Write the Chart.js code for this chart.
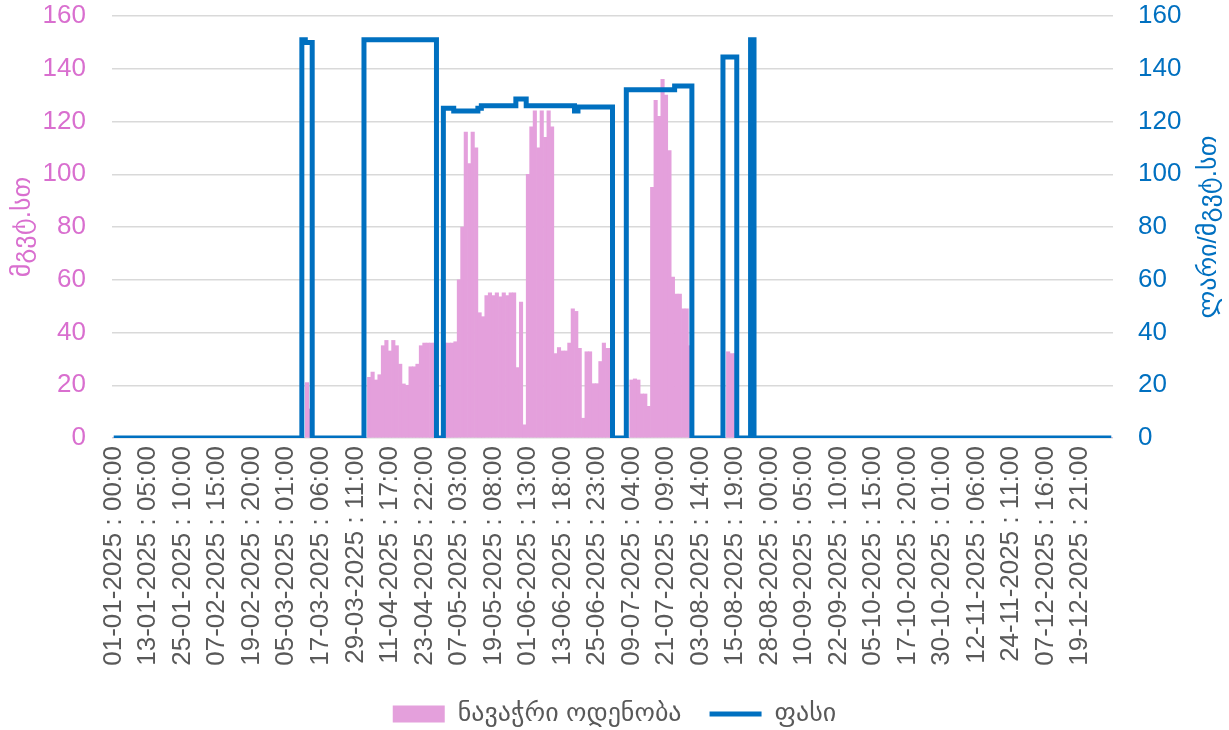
<!DOCTYPE html>
<html lang="ka">
<head>
    <meta charset="UTF-8">
    <title>ნავაჭრი ოდენობა და ფასი</title>
    <script src="https://cdn.jsdelivr.net/npm/chart.js@4"></script>
    <style>
        html, body { margin: 0; padding: 0; background: #fff; }
        #wrap { width: 1229px; height: 730px; position: relative; }
    </style>
</head>
<body>
    <div id="wrap"><canvas id="chart"></canvas></div>

    <script>
        // x ღერძის წარწერები (ყოველი მე-10 წერტილი)
        const xTickLabels = [
            "01-01-2025 : 00:00", "13-01-2025 : 05:00", "25-01-2025 : 10:00", "07-02-2025 : 15:00",
            "19-02-2025 : 20:00", "05-03-2025 : 01:00", "17-03-2025 : 06:00", "29-03-2025 : 11:00",
            "11-04-2025 : 17:00", "23-04-2025 : 22:00", "07-05-2025 : 03:00", "19-05-2025 : 08:00",
            "01-06-2025 : 13:00", "13-06-2025 : 18:00", "25-06-2025 : 23:00", "09-07-2025 : 04:00",
            "21-07-2025 : 09:00", "03-08-2025 : 14:00", "15-08-2025 : 19:00", "28-08-2025 : 00:00",
            "10-09-2025 : 05:00", "22-09-2025 : 10:00", "05-10-2025 : 15:00", "17-10-2025 : 20:00",
            "30-10-2025 : 01:00", "12-11-2025 : 06:00", "24-11-2025 : 11:00", "07-12-2025 : 16:00",
            "19-12-2025 : 21:00"
        ];
        const pointsPerLabel = 10;

        // ნავაჭრი ოდენობა, მგვტ.სთ (ერთი სტრიქონი = ერთი წარწერის ინტერვალი)
        const volume = [
            0, 0, 0, 0, 0, 0, 0, 0, 0, 0,
            0, 0, 0, 0, 0, 0, 0, 0, 0, 0,
            0, 0, 0, 0, 0, 0, 0, 0, 0, 0,
            0, 0, 0, 0, 0, 0, 0, 0, 0, 0,
            0, 0, 0, 0, 0, 0, 0, 0, 0, 0,
            0, 0, 0, 0, 0, 0, 21, 11, 0, 0,
            0, 0, 0, 0, 0, 0, 0, 0, 0, 0,
            0, 0, 0, 0, 23, 25, 22, 24, 35, 37,
            33, 37, 35, 28, 20.5, 20, 27, 27, 28, 35,
            36, 36, 36, 36, 0, 0, 36, 36, 36, 36.5,
            60, 80, 116, 104, 116, 110, 47.5, 46, 54, 55,
            54, 55, 53.5, 55, 54, 55, 55, 26.7, 51.5, 5,
            100, 118, 124, 110, 124, 114, 124, 118, 32, 34.3,
            33, 33, 36, 49, 48, 34, 7.5, 32.7, 32.7, 20.6,
            20.6, 29, 36, 34, 34, 0, 0, 0, 0, 0,
            22, 22.4, 22, 16.7, 16.7, 12, 95, 128, 122, 136,
            130, 109, 61, 54.6, 54.6, 49, 49, 35, 0, 0,
            0, 0, 0, 0, 0, 0, 0, 0, 32.7, 32,
            32, 0, 0, 0, 0, 0, 0, 0, 0, 0,
            0, 0, 0, 0, 0, 0, 0, 0, 0, 0,
            0, 0, 0, 0, 0, 0, 0, 0, 0, 0,
            0, 0, 0, 0, 0, 0, 0, 0, 0, 0,
            0, 0, 0, 0, 0, 0, 0, 0, 0, 0,
            0, 0, 0, 0, 0, 0, 0, 0, 0, 0,
            0, 0, 0, 0, 0, 0, 0, 0, 0, 0,
            0, 0, 0, 0, 0, 0, 0, 0, 0, 0,
            0, 0, 0, 0, 0, 0, 0, 0, 0, 0,
            0, 0, 0, 0, 0, 0, 0, 0, 0, 0,
            0, 0, 0, 0, 0, 0, 0, 0, 0, 0
        ];

        // ფასი, ლარი/მგვტ.სთ
        const price = [
            0, 0, 0, 0, 0, 0, 0, 0, 0, 0,
            0, 0, 0, 0, 0, 0, 0, 0, 0, 0,
            0, 0, 0, 0, 0, 0, 0, 0, 0, 0,
            0, 0, 0, 0, 0, 0, 0, 0, 0, 0,
            0, 0, 0, 0, 0, 0, 0, 0, 0, 0,
            0, 0, 0, 0, 0, 151, 150, 150, 0, 0,
            0, 0, 0, 0, 0, 0, 0, 0, 0, 0,
            0, 0, 0, 151, 151, 151, 151, 151, 151, 151,
            151, 151, 151, 151, 151, 151, 151, 151, 151, 151,
            151, 151, 151, 151, 0, 0, 125, 125, 125, 124,
            124, 124, 124, 124, 124, 124, 125, 126, 126, 126,
            126, 126, 126, 126, 126, 126, 126, 128.5, 128.5, 128.5,
            126, 126, 126, 126, 126, 126, 126, 126, 126, 126,
            126, 126, 126, 126, 124, 125.5, 125.5, 125.5, 125.5, 125.5,
            125.5, 125.5, 125.5, 125.5, 125.5, 0, 0, 0, 0, 132,
            132, 132, 132, 132, 132, 132, 132, 132, 132, 132,
            132, 132, 132, 133.5, 133.5, 133.5, 133.5, 133.5, 0, 0,
            0, 0, 0, 0, 0, 0, 0, 144.5, 144.5, 144.5,
            144.5, 0, 0, 0, 0, 151, 0, 0, 0, 0,
            0, 0, 0, 0, 0, 0, 0, 0, 0, 0,
            0, 0, 0, 0, 0, 0, 0, 0, 0, 0,
            0, 0, 0, 0, 0, 0, 0, 0, 0, 0,
            0, 0, 0, 0, 0, 0, 0, 0, 0, 0,
            0, 0, 0, 0, 0, 0, 0, 0, 0, 0,
            0, 0, 0, 0, 0, 0, 0, 0, 0, 0,
            0, 0, 0, 0, 0, 0, 0, 0, 0, 0,
            0, 0, 0, 0, 0, 0, 0, 0, 0, 0,
            0, 0, 0, 0, 0, 0, 0, 0, 0, 0,
            0, 0, 0, 0, 0, 0, 0, 0, 0, 0
        ];

        // კატეგორიები: წარწერა მხოლოდ ყოველ მე-10 წერტილზე
        const categories = volume.map((v, i) =>
            i % pointsPerLabel === 0 ? (xTickLabels[i / pointsPerLabel] || "") : "");

        const PINK = "#E4A0DC";
        const PINK_TEXT = "#D96FCF";
        const BLUE = "#0070C0";
        const GREY = "#595959";
        const FONT = '"Liberation Sans", "DejaVu Sans", sans-serif';

        Chart.defaults.font.family = FONT;
        Chart.defaults.font.size = 26;

        // მარჯვენა ღერძის სათაური (ქვემოდან ზემოთ)
        const rightTitle = {
            id: "rightTitle",
            afterDraw(chart) {
                const { ctx, chartArea } = chart;
                ctx.save();
                ctx.translate(chart.width - 20, (chartArea.top + chartArea.bottom) / 2);
                ctx.rotate(-Math.PI / 2);
                ctx.font = "26px " + FONT;
                ctx.fillStyle = BLUE;
                ctx.textAlign = "center";
                ctx.textBaseline = "middle";
                ctx.fillText("ლარი/მგვტ.სთ", 0, 0);
                ctx.restore();
            }
        };

        // ღერძის სიგანე ფიქსირებული, ზედა/ქვედა შეწევა გამორთული
        const fixY = w => s => { s.width = w; s.paddingTop = 0; s.paddingBottom = 0; };

        const ctx = document.getElementById("chart").getContext("2d");
        new Chart(ctx, {
            type: "bar",
            data: {
                labels: categories,
                datasets: [
                    {
                        label: "ნავაჭრი ოდენობა",
                        data: volume,
                        backgroundColor: PINK,
                        borderWidth: 0,
                        barPercentage: 1,
                        categoryPercentage: 1,
                        pointStyle: "rect",
                        yAxisID: "y",
                        order: 1
                    },
                    {
                        type: "line",
                        label: "ფასი",
                        data: price,
                        borderColor: BLUE,
                        backgroundColor: BLUE,
                        borderWidth: 5,
                        stepped: "middle",
                        pointRadius: 0,
                        pointStyle: "line",
                        fill: false,
                        yAxisID: "y1",
                        order: 0
                    }
                ]
            },
            options: {
                responsive: true,
                maintainAspectRatio: false,
                animation: false,
                layout: { padding: { top: 16, bottom: -7, left: 0, right: 0 } },
                plugins: {
                    tooltip: { enabled: false },
                    legend: {
                        position: "bottom",
                        labels: {
                            color: GREY,
                            font: { size: 26 },
                            usePointStyle: true,
                            pointStyleWidth: 52,
                            boxHeight: 17,
                            padding: 28,
                            sort: (a, b) => a.datasetIndex - b.datasetIndex
                        }
                    }
                },
                scales: {
                    x: {
                        grid: { display: false, drawTicks: false },
                        border: { display: false },
                        ticks: {
                            autoSkip: false,
                            maxRotation: 90,
                            minRotation: 90,
                            padding: 8,
                            color: GREY,
                            font: { size: 26 }
                        },
                        afterFit: s => { s.height = 235; }
                    },
                    y: {
                        position: "left",
                        min: 0,
                        max: 160,
                        ticks: { stepSize: 20, color: PINK_TEXT, padding: 26, font: { size: 26 } },
                        grid: { color: "#D9D9D9", lineWidth: 1.5, drawTicks: false },
                        border: { display: false },
                        title: {
                            display: true,
                            text: "მგვტ.სთ",
                            color: PINK_TEXT,
                            font: { size: 26 },
                            padding: { top: 7, bottom: 0 }
                        },
                        afterFit: fixY(112)
                    },
                    y1: {
                        position: "right",
                        min: 0,
                        max: 160,
                        ticks: { stepSize: 20, color: BLUE, padding: 25, font: { size: 26 } },
                        grid: { drawOnChartArea: false, drawTicks: false },
                        border: { display: false },
                        afterFit: fixY(116)
                    }
                }
            },
            plugins: [rightTitle]
        });
    </script>
</body>
</html>
